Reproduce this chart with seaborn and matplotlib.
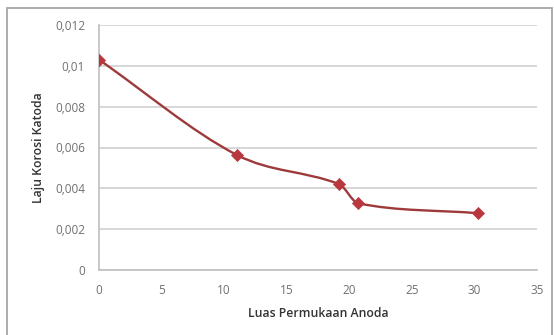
import numpy as np
import pandas as pd
import matplotlib
matplotlib.use("Agg")
import matplotlib.pyplot as plt
from matplotlib.path import Path
from matplotlib.patches import PathPatch, Rectangle
from matplotlib.ticker import FixedLocator, FixedFormatter
import seaborn as sns

# Measured data: anode surface area vs. cathode corrosion rate
luas_anoda = [0.0, 11.0, 19.2, 20.7, 30.3]
laju_korosi = [0.0103, 0.00564, 0.0042, 0.00327, 0.00278]

x_ticks = [0, 5, 10, 15, 20, 25, 30, 35]
y_ticks = [0, 0.002, 0.004, 0.006, 0.008, 0.010, 0.012]
y_tick_labels = ["0", "0,002", "0,004", "0,006", "0,008", "0,01", "0,012"]

x_label = "Luas Permukaan Anoda"
y_label = "Laju Korosi Katoda"

df = pd.DataFrame({"luas": luas_anoda, "laju": laju_korosi})

sns.set_theme(style="white")
plt.rcParams["font.family"] = ["Open Sans", "DejaVu Sans"]

fig = plt.figure(figsize=(5.54, 3.35), dpi=100)
fig.patch.set_facecolor("white")

# outer chart frame
fig.patches.append(Rectangle((7 / 554, -0.05), (552 - 7) / 554, (335 - 8) / 335 + 0.05,
                             transform=fig.transFigure, fill=False,
                             edgecolor="#A6A6A6", linewidth=1.3, zorder=0))

ax = fig.add_axes([99 / 554, 65 / 335, 438 / 554, 245 / 335])
ax.set_facecolor("white")

line_color = "#9E3A3B"
marker_color = "#B9383F"

# smoothed connecting curve: cubic Hermite in x (no loops), drawn as Bezier path
xs = np.asarray(luas_anoda, dtype=float)
ys = np.asarray(laju_korosi, dtype=float)
n = len(xs)
slopes = np.empty(n)
slopes[0] = (ys[1] - ys[0]) / (xs[1] - xs[0])
slopes[-1] = (ys[-1] - ys[-2]) / (xs[-1] - xs[-2])
for i in range(1, n - 1):
    slopes[i] = (ys[i + 1] - ys[i - 1]) / (xs[i + 1] - xs[i - 1])
verts = [(xs[0], ys[0])]
codes = [Path.MOVETO]
for i in range(n - 1):
    dx = xs[i + 1] - xs[i]
    c1 = (xs[i] + dx / 3, ys[i] + slopes[i] * dx / 3)
    c2 = (xs[i + 1] - dx / 3, ys[i + 1] - slopes[i + 1] * dx / 3)
    verts += [c1, c2, (xs[i + 1], ys[i + 1])]
    codes += [Path.CURVE4] * 3
ax.add_patch(PathPatch(Path(verts, codes), fill=False, edgecolor=line_color,
                       linewidth=1.7, zorder=3, capstyle="round", joinstyle="round"))

sns.scatterplot(data=df, x="luas", y="laju", ax=ax, marker="D", s=38,
                color=marker_color, edgecolor=marker_color, linewidth=0.5,
                zorder=4, legend=False)

ax.set_xlim(0, 35)
ax.set_ylim(0, 0.012)
ax.xaxis.set_major_locator(FixedLocator(x_ticks))
ax.yaxis.set_major_locator(FixedLocator(y_ticks))
ax.yaxis.set_major_formatter(FixedFormatter(y_tick_labels))
ax.set_xticklabels([str(t) for t in x_ticks])

ax.grid(axis="y", color="#D4D4D4", linewidth=1.3, zorder=1)
ax.grid(axis="x", visible=False)
ax.set_axisbelow(True)
for side in ["top", "right"]:
    ax.spines[side].set_visible(False)
for side in ["left", "bottom"]:
    ax.spines[side].set_color("#BFBFBF")
    ax.spines[side].set_linewidth(1.2)

ax.tick_params(axis="both", which="both", length=0, labelsize=8.5, labelcolor="#707070")
ax.tick_params(axis="y", pad=10)
ax.tick_params(axis="x", pad=10)

ax.set_xlabel(x_label, fontsize=8.8, color="#333333", fontweight="semibold", labelpad=7)
ax.set_ylabel(y_label, fontsize=8.8, color="#333333", fontweight="semibold", labelpad=7)

fig.savefig("out.png", dpi=100, facecolor="white")
